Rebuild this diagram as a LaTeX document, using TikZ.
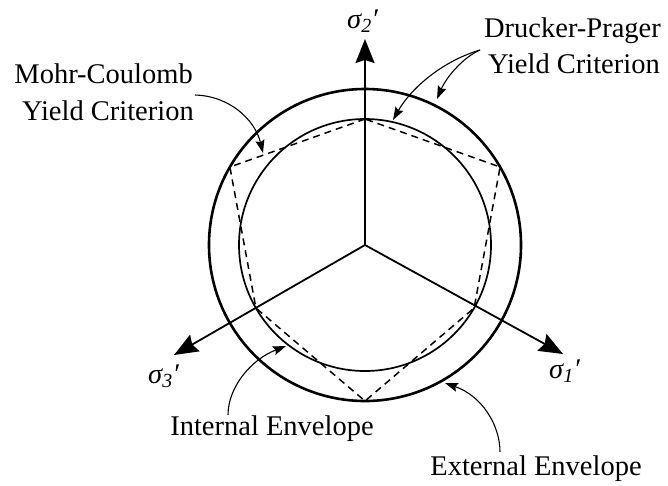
\documentclass[tikz,border=0pt]{standalone}
\usepackage{fontspec}
\setmainfont{Liberation Serif}
\usetikzlibrary{arrows.meta}
\tikzset{
  lbl/.style={inner sep=0pt, font=\fontsize{28.5}{34}\selectfont},
  axislbl/.style={inner sep=0pt, anchor=base west, font=\fontsize{28.5}{34}\selectfont\itshape},
  axis/.style={line width=1.8pt, -{Stealth[length=24pt,width=19pt,inset=3pt]}},
  outerenv/.style={line width=2.6pt},
  innerenv/.style={line width=1.7pt},
  mc/.style={line width=1.5pt, dash pattern=on 7pt off 5pt},
  pointer/.style={line width=1.1pt, -{Stealth[length=13pt,width=9pt,inset=2pt]}}
}
\begin{document}
\begin{tikzpicture}[x=1pt,y=-1pt]
\useasboundingbox (0,0) rectangle (668,485);
\coordinate (O) at (365,245);
% envelopes
\draw[outerenv] (O) circle[radius=156pt];
\draw[innerenv] (O) circle[radius=126pt];
% Mohr-Coulomb hexagon
\coordinate (h1) at (365,119);
\coordinate (h2) at (229.9,167);
\coordinate (h3) at (255.9,308);
\coordinate (h4) at (365,401);
\coordinate (h5) at (474.1,308);
\coordinate (h6) at (500.1,167);
\draw[mc] (h1) -- (h2) -- (h3) -- (h4) -- (h5) -- (h6) -- cycle;
% axes
\coordinate (t2) at (365,39);
\coordinate (t1) at (563,354);
\coordinate (t3) at (174,355);
\draw[axis] (O) -- (t2);
\draw[axis] (O) -- (t1);
\draw[axis] (O) -- (t3);
\node[axislbl] (s2) at (347,28) {σ\textsubscript{2}′};
\node[axislbl] (s1) at (549,378) {σ\textsubscript{1}′};
\node[axislbl] (s3) at (148,383) {σ\textsubscript{3}′};
% labels
\node[lbl, anchor=base east] (mc1) at (193,83) {Mohr-Coulomb};
\node[lbl, anchor=base east] (mc2) at (194,120) {Yield Criterion};
\node[lbl, anchor=base east] (dp1) at (661,37) {Drucker-Prager};
\node[lbl, anchor=base east] (dp2) at (660,73) {Yield Criterion};
\node[lbl, anchor=base] (ie) at (272,435) {Internal Envelope};
\node[lbl, anchor=base] (ee) at (536,475) {External Envelope};
% pointers
\coordinate (mcs) at (195,95);
\coordinate (mct) at (263,153);
\coordinate (dps) at (480,50);
\coordinate (dpo) at (437,99);
\coordinate (dpi) at (393,120);
\coordinate (ies) at (228,415);
\coordinate (iet) at (286,346);
\coordinate (ees) at (500,452);
\coordinate (eet) at (445,383);
\draw[pointer] (mcs) .. controls (230,96) and (255,120) .. (mct);
\draw[pointer] (dps) .. controls (462,58) and (446,78) .. (dpo);
\draw[pointer] (dps) .. controls (440,62) and (410,90) .. (dpi);
\draw[pointer] (ies) .. controls (228,388) and (250,360) .. (iet);
\draw[pointer] (ees) .. controls (500,425) and (482,396) .. (eet);
\end{tikzpicture}
\end{document}
